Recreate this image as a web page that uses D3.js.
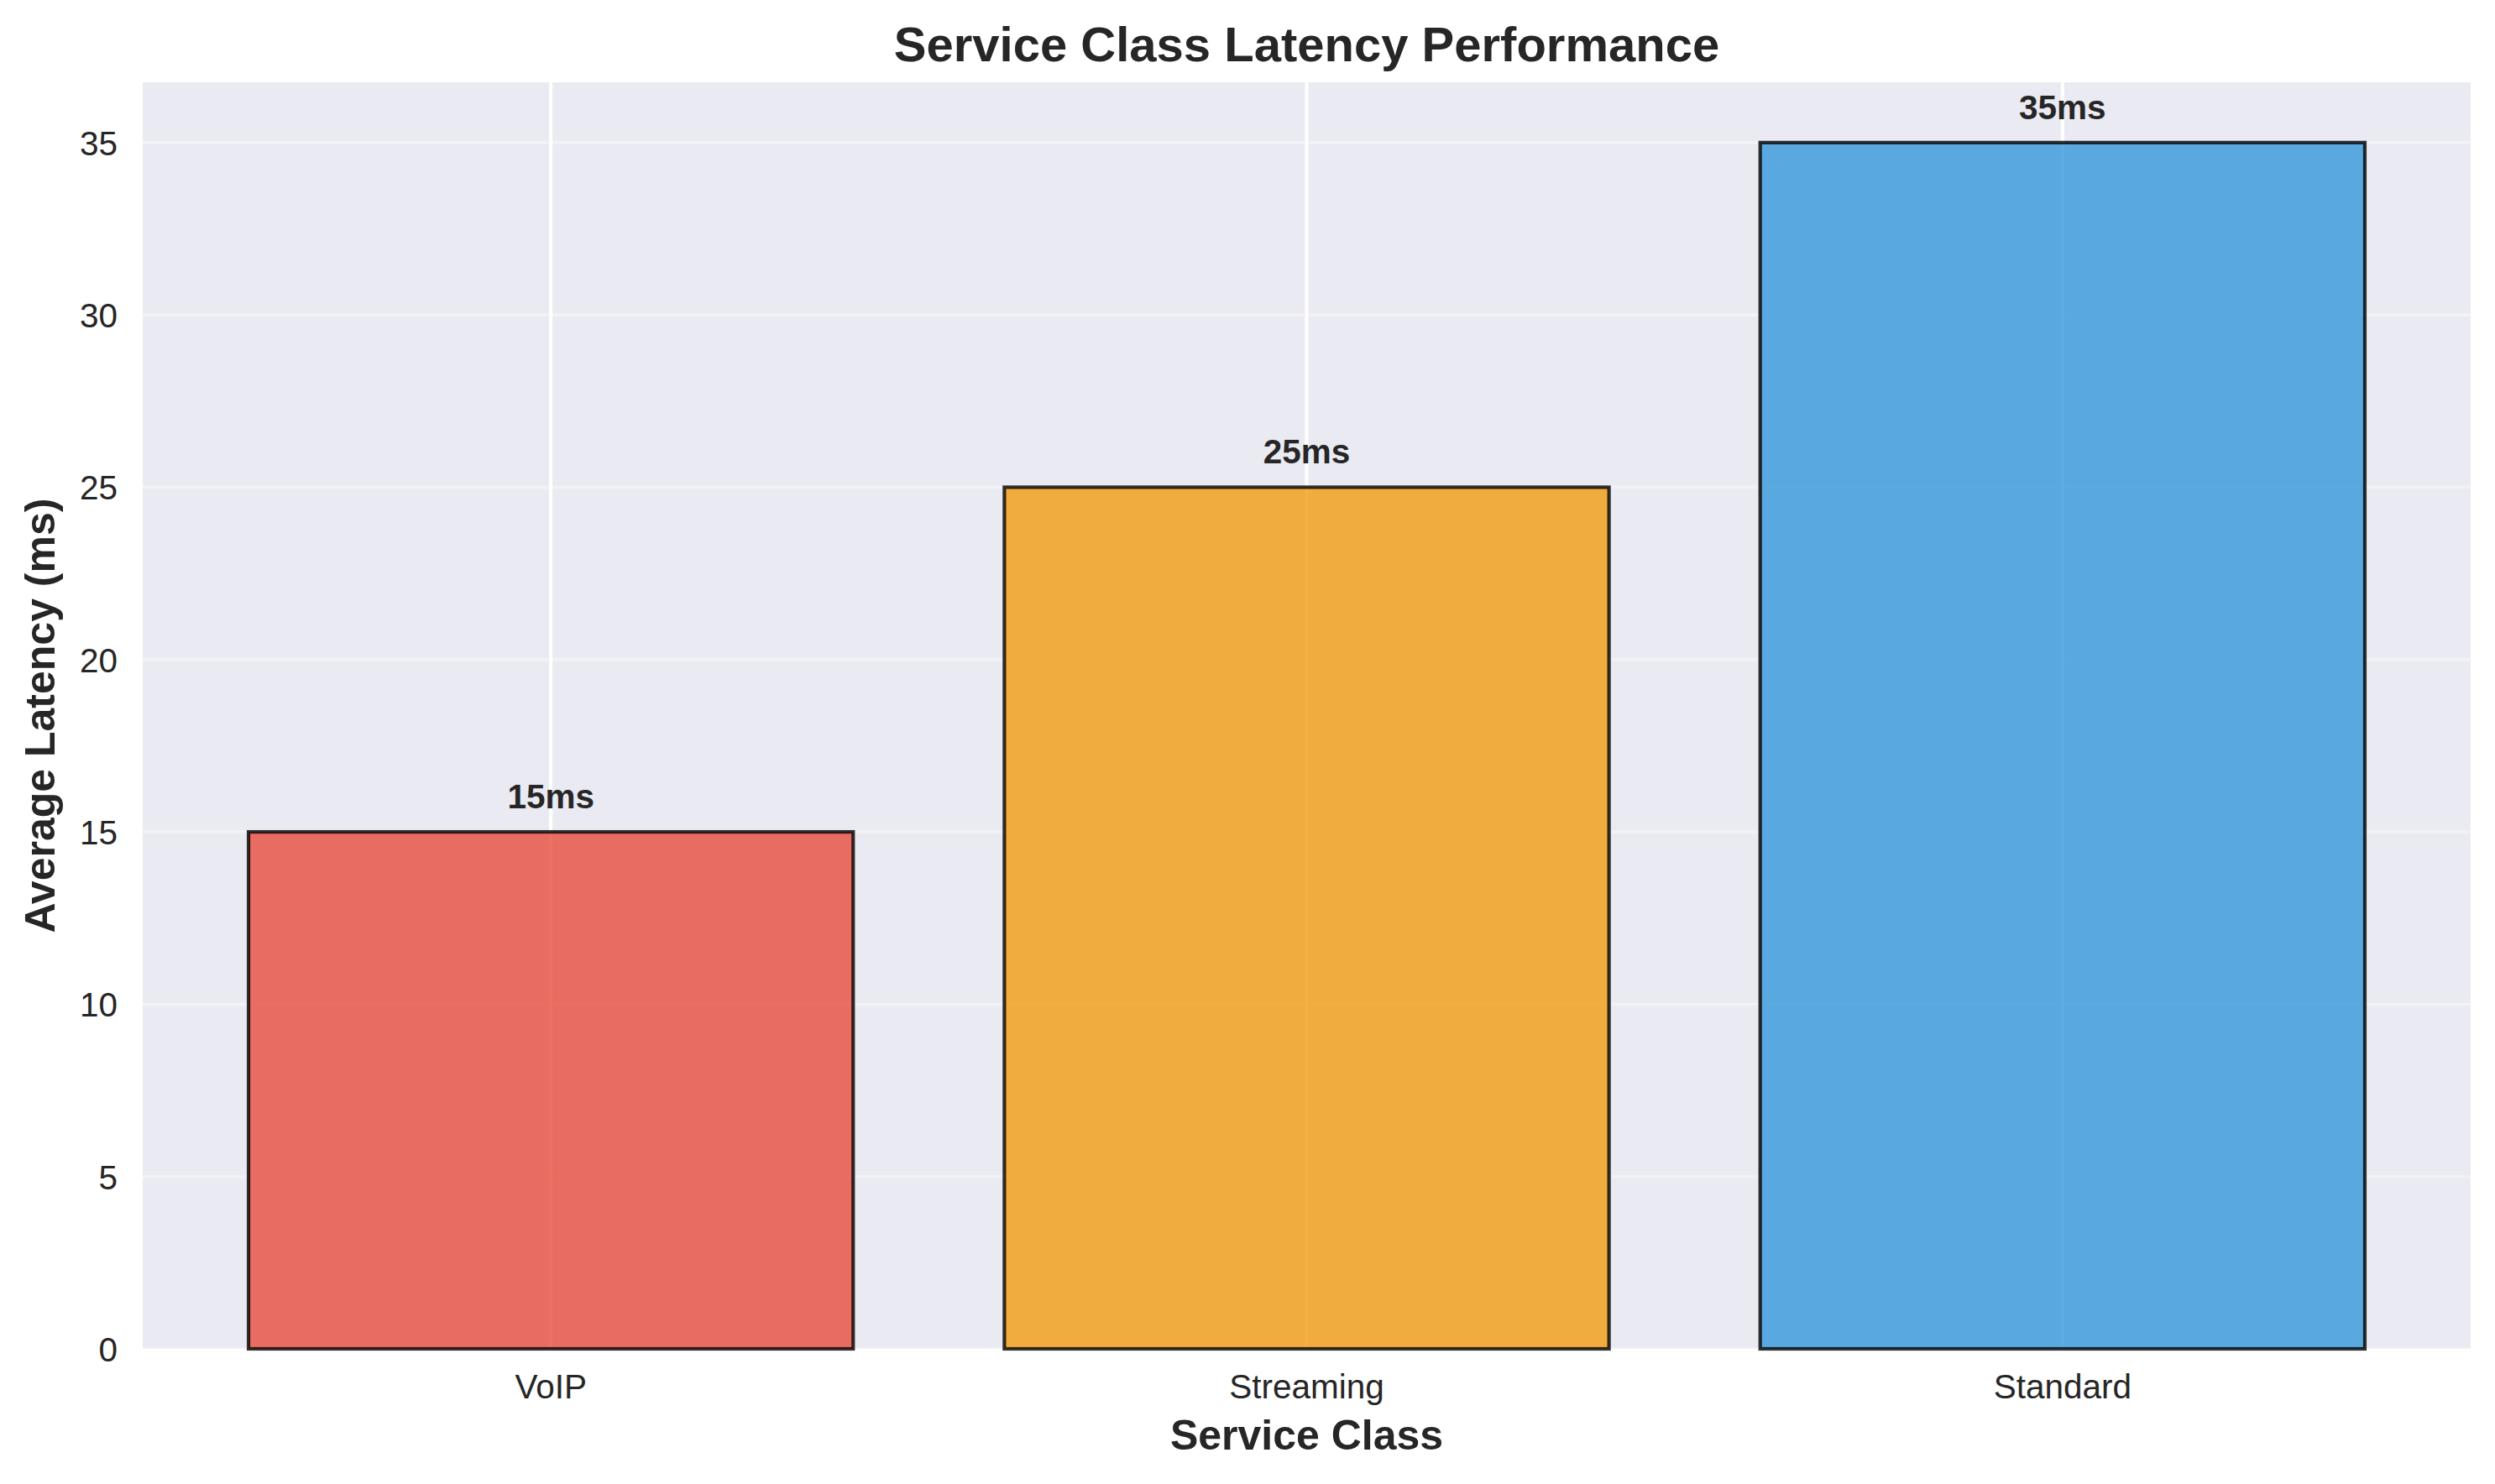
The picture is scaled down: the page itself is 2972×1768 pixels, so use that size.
<!DOCTYPE html>
<html>
<head>
<meta charset="utf-8">
<script src="https://cdn.jsdelivr.net/npm/d3@7"></script>
<style>
  html, body { margin: 0; padding: 0; background: #ffffff; }
  svg { display: block; }
  text { font-family: "Liberation Sans", Arial, Helvetica, sans-serif; fill: #262626; }
</style>
</head>
<body>
<svg id="chart" width="2972" height="1768"></svg>
<script>
// ---- data ----
const categories = ["VoIP", "Streaming", "Standard"];
const latencies = [15, 25, 35];
const barColors = ["#E74C3C", "#F39C12", "#3498DB"];
const valueLabels = ["15ms", "25ms", "35ms"];
const yTicks = [0, 5, 10, 15, 20, 25, 30, 35];
const yMax = 36.75;

const titleText = "Service Class Latency Performance";
const xLabelText = "Service Class";
const yLabelText = "Average Latency (ms)";

// ---- layout ----
const W = 2972, H = 1768;
const plot = { left: 170, right: 2943, top: 98, bottom: 1607 };

const svg = d3.select("#chart");
svg.append("rect").attr("width", W).attr("height", H).attr("fill", "#ffffff");

const x = d3.scaleBand()
  .domain(categories)
  .range([plot.left, plot.right])
  .paddingInner(0.2)
  .paddingOuter(0.14);

const y = d3.scaleLinear()
  .domain([0, yMax])
  .range([plot.bottom, plot.top]);

// background
svg.append("rect")
  .attr("x", plot.left).attr("y", plot.top)
  .attr("width", plot.right - plot.left)
  .attr("height", plot.bottom - plot.top)
  .attr("fill", "#EAEAF2");

// horizontal grid (faint)
svg.append("g").selectAll("line").data(yTicks).join("line")
  .attr("x1", plot.left).attr("x2", plot.right)
  .attr("y1", d => y(d)).attr("y2", d => y(d))
  .attr("stroke", "#ffffff").attr("stroke-opacity", 0.35).attr("stroke-width", 4);

// vertical grid (white)
svg.append("g").selectAll("line").data(categories).join("line")
  .attr("x1", d => x(d) + x.bandwidth() / 2).attr("x2", d => x(d) + x.bandwidth() / 2)
  .attr("y1", plot.top).attr("y2", plot.bottom)
  .attr("stroke", "#ffffff").attr("stroke-width", 4);

// bars
svg.append("g").selectAll("rect").data(categories).join("rect")
  .attr("x", d => x(d))
  .attr("y", (d, i) => y(latencies[i]))
  .attr("width", x.bandwidth())
  .attr("height", (d, i) => y(0) - y(latencies[i]))
  .attr("fill", (d, i) => barColors[i])
  .attr("fill-opacity", 0.8)
  .attr("stroke", "#000000")
  .attr("stroke-opacity", 0.8)
  .attr("stroke-width", 4.2);

// value labels
svg.append("g").selectAll("text").data(categories).join("text")
  .attr("x", d => x(d) + x.bandwidth() / 2)
  .attr("y", (d, i) => y(latencies[i]) - 28)
  .attr("text-anchor", "middle")
  .attr("font-size", 40.5)
  .attr("font-weight", "bold")
  .text((d, i) => valueLabels[i]);

// y axis
const yAxis = svg.append("g")
  .attr("transform", `translate(${plot.left},0)`)
  .call(d3.axisLeft(y).tickValues(yTicks).tickSize(0).tickPadding(30).tickFormat(d3.format("d")));
yAxis.select(".domain").remove();
yAxis.selectAll("text")
  .attr("font-size", 40.5)
  .attr("font-family", "Liberation Sans, Arial, sans-serif")
  .attr("fill", "#262626")
  .attr("dy", "0.355em");

// x axis
const xAxis = svg.append("g")
  .attr("transform", `translate(0,${plot.bottom})`)
  .call(d3.axisBottom(x).tickSize(0).tickPadding(30));
xAxis.select(".domain").remove();
xAxis.selectAll("text")
  .attr("font-size", 40.5)
  .attr("font-family", "Liberation Sans, Arial, sans-serif")
  .attr("fill", "#262626");

// title
svg.append("text")
  .attr("x", (plot.left + plot.right) / 2)
  .attr("y", 73)
  .attr("text-anchor", "middle")
  .attr("font-size", 58)
  .attr("font-weight", "bold")
  .text(titleText);

// x label
svg.append("text")
  .attr("x", (plot.left + plot.right) / 2)
  .attr("y", 1727)
  .attr("text-anchor", "middle")
  .attr("font-size", 50)
  .attr("font-weight", "bold")
  .text(xLabelText);

// y label
svg.append("text")
  .attr("transform", `translate(65,${(plot.top + plot.bottom) / 2}) rotate(-90)`)
  .attr("text-anchor", "middle")
  .attr("font-size", 50)
  .attr("font-weight", "bold")
  .text(yLabelText);
</script>
</body>
</html>
